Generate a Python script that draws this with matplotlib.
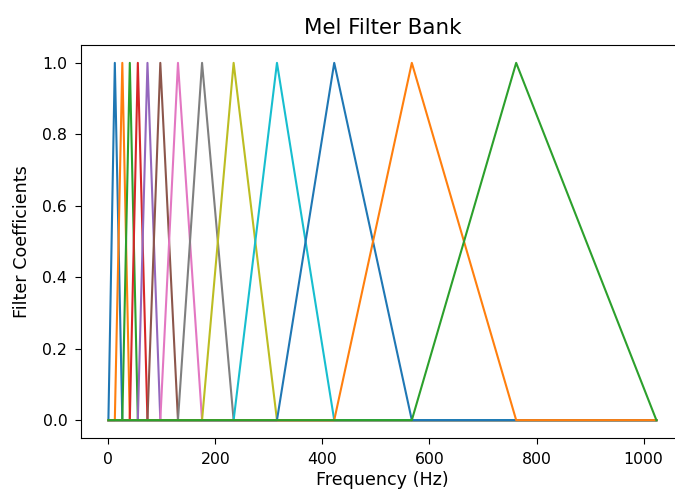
import numpy as np
import matplotlib
matplotlib.use("Agg")
import matplotlib.pyplot as plt

# filter edge points (bin index): 13 triangular filters
edge_points = [0, 12, 26, 40, 55, 73, 97, 130, 175, 234, 315, 422, 567, 762, 1024]
n_bins = 1025

freqs = np.arange(n_bins)
n_filters = len(edge_points) - 2

fig = plt.figure(figsize=(6.75, 4.94), dpi=100)
# the reference is cropped on the right, so the axes run past the figure edge
ax = fig.add_axes([0.12, 0.1134, 0.893, 0.7955])

for m in range(1, n_filters + 1):
    left, center, right = edge_points[m - 1], edge_points[m], edge_points[m + 1]
    fbank = np.interp(freqs, [left, center, right], [0.0, 1.0, 0.0], left=0.0, right=0.0)
    ax.plot(freqs, fbank, linewidth=1.5)

ax.set_title("Mel Filter Bank", fontsize=15.4, pad=8)
ax.set_xlabel("Frequency (Hz)", fontsize=12.6, labelpad=3)
ax.set_ylabel("Filter Coefficients", fontsize=12.6, labelpad=8)
ax.tick_params(labelsize=11.3, length=4.4, pad=5.5)
ax.spines['right'].set_visible(False)

fig.savefig("out.png", dpi=100)
